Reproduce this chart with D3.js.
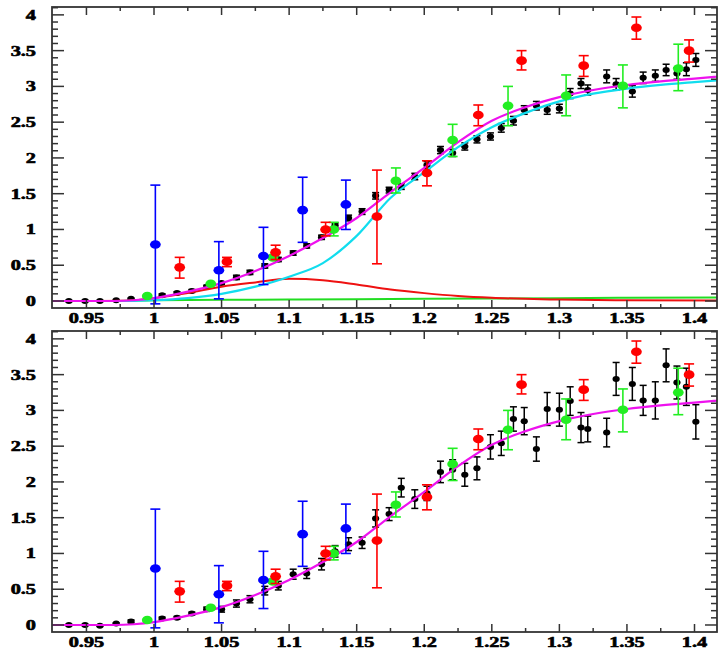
<!DOCTYPE html>
<html>
<head>
<meta charset="utf-8">
<script src="https://cdn.jsdelivr.net/npm/d3@7"></script>
<style>
  body { margin: 0; background: #fff; }
  text { font-family: "Liberation Serif", "DejaVu Serif", serif; font-weight: bold; font-size: 14px; fill: #000; stroke: #000; stroke-width: 0.6px; }
</style>
</head>
<body>
<div id="chart"></div>
<script>
// black points (same x in both panels)
const blackX = [0.937,0.949,0.960,0.972,0.983,1.006,1.017,1.028,1.039,1.050,1.061,1.071,1.082,1.092,1.103,1.113,1.124,1.134,1.144,1.154,
  1.164,1.174,1.183,1.193,1.202,1.212,1.221,1.230,1.239,1.249,1.257,1.266,1.274,1.283,1.291,1.300,1.308,1.316,1.321,1.335,
  1.342,1.354,1.362,1.371,1.379,1.387,1.394,1.401];
const blackTopY = [0,0,0,0.01,0.03,0.08,0.11,0.14,0.20,0.25,0.33,0.40,0.49,0.58,0.67,0.77,0.89,1.06,1.16,1.25,
  1.47,1.55,1.60,1.74,1.90,2.11,2.07,2.16,2.26,2.30,2.42,2.52,2.67,2.73,2.67,2.69,2.90,3.04,2.95,3.14,
  3.03,2.93,3.12,3.15,3.23,3.18,3.24,3.37];
const blackTopErr = [0.01,0.01,0.01,0.01,0.01,0.02,0.02,0.02,0.02,0.02,0.03,0.03,0.03,0.03,0.03,0.03,0.03,0.03,0.04,0.04,
  0.045,0.04,0.04,0.045,0.05,0.05,0.05,0.05,0.05,0.05,0.06,0.06,0.06,0.06,0.06,0.06,0.07,0.07,0.07,0.09,
  0.08,0.08,0.08,0.08,0.08,0.08,0.09,0.09];
const blackBotY = [0,0,-0.01,0.02,0.05,0.09,0.10,0.16,0.22,0.22,0.30,0.36,0.48,0.55,0.71,0.72,0.85,1.03,1.13,1.15,
  1.49,1.55,1.92,1.76,1.84,2.14,2.17,2.10,2.19,2.49,2.54,2.88,2.85,2.46,3.02,3.01,3.13,2.76,2.74,2.69,
  3.44,3.37,3.14,3.14,3.63,3.39,3.33,2.84];
const blackBotErr = [0.01,0.01,0.01,0.01,0.02,0.02,0.02,0.02,0.03,0.04,0.05,0.05,0.06,0.06,0.07,0.07,0.08,0.08,0.09,0.08,
  0.12,0.09,0.13,0.13,0.10,0.15,0.14,0.16,0.16,0.17,0.17,0.17,0.19,0.17,0.23,0.23,0.20,0.21,0.18,0.20,
  0.23,0.23,0.21,0.26,0.23,0.23,0.26,0.24];

// coloured points (same in both panels)
const blueX = [1.001,1.048,1.081,1.110,1.142];
const blueY = [0.79,0.43,0.63,1.27,1.35];
const blueHi = [1.62,0.83,1.03,1.73,1.69];
const blueLo = [-0.04,0.03,0.23,0.82,1.00];

const redX = [1.019,1.054,1.090,1.127,1.165,1.202,1.240,1.272,1.318,1.357,1.396];
const redY = [0.47,0.55,0.68,1.00,1.18,1.79,2.60,3.36,3.29,3.82,3.50];
const redHi = [0.61,0.61,0.78,1.10,1.83,1.96,2.74,3.50,3.43,3.97,3.65];
const redLo = [0.32,0.48,0.58,0.91,0.52,1.61,2.45,3.23,3.14,3.66,3.34];

const greenX = [0.995,1.042,1.088,1.133,1.179,1.221,1.262,1.305,1.347,1.388];
const greenY = [0.07,0.24,0.61,1.00,1.68,2.25,2.73,2.87,3.01,3.25];
const greenHi = [0.07,0.24,0.63,1.10,1.86,2.47,3.00,3.16,3.30,3.59];
const greenLo = [0.07,0.24,0.59,0.91,1.51,2.02,2.45,2.59,2.70,2.94];

// fitted curves
const totalX = [0.92,0.95,0.97,0.985,1.0,1.02,1.05,1.075,1.1,1.125,1.15,1.175,1.2,1.225,1.25,1.275,1.3,1.325,1.35,1.375,1.4,1.42];
const totalY = [0,0,0,0.01,0.04,0.11,0.25,0.42,0.63,0.88,1.16,1.52,1.86,2.22,2.52,2.71,2.85,2.95,3.02,3.07,3.11,3.14];
const cyanX = [0.92,0.95,0.98,1.0,1.025,1.05,1.075,1.1,1.125,1.15,1.175,1.2,1.225,1.25,1.275,1.3,1.325,1.35,1.375,1.4,1.42];
const cyanY = [0,0,0,0.01,0.04,0.10,0.20,0.34,0.53,0.91,1.44,1.80,2.15,2.43,2.63,2.79,2.90,2.97,3.02,3.06,3.09];
const redCurveX = [0.92,0.95,0.98,1.0,1.025,1.05,1.075,1.1,1.125,1.15,1.175,1.2,1.225,1.25,1.275,1.3,1.35,1.42];
const redCurveY = [0,0,0.005,0.04,0.11,0.20,0.26,0.31,0.29,0.23,0.16,0.11,0.07,0.045,0.03,0.02,0.01,0.005];
const greenCurveX = [0.92,0.97,1.0,1.05,1.1,1.15,1.2,1.25,1.3,1.35,1.42];
const greenCurveY = [0,0,0.012,0.016,0.02,0.025,0.03,0.035,0.04,0.045,0.05];

const xTicks = [0.95,1,1.05,1.1,1.15,1.2,1.25,1.3,1.35,1.4];
const yTicks = [0,0.5,1,1.5,2,2.5,3,3.5,4];

const W = 718, H = 651;
const left = 52, right = 717;
const frameCol = "#333";
const stretch = 1.45; // the labels are drawn wide, like the rest of the picture

const svg = d3.select("#chart").append("svg")
  .attr("width", W).attr("height", H);

const x = d3.scaleLinear().domain([0.92451, 1.41665]).range([left, right]);

function zip(xs, ys) { return xs.map((v, i) => [v, ys[i]]); }

function panel(top, bottom, id, blackY, blackErr, showComponents) {
  const y = d3.scaleLinear().domain([-0.098, 4.11]).range([bottom, top]);
  const g = svg.append("g");

  g.append("clipPath").attr("id", id)
    .append("rect").attr("x", left).attr("y", top).attr("width", right - left).attr("height", bottom - top);
  const plot = g.append("g").attr("clip-path", `url(#${id})`);

  // black points with error bars
  const blk = plot.append("g");
  blackX.forEach((xv, i) => {
    const cx = x(xv), e = blackErr[i];
    blk.append("line").attr("x1", cx).attr("x2", cx)
      .attr("y1", y(blackY[i] - e)).attr("y2", y(blackY[i] + e))
      .attr("stroke", "#000").attr("stroke-width", 1.5);
    [blackY[i] - e, blackY[i] + e].forEach(v => {
      blk.append("line").attr("x1", cx - 3.5).attr("x2", cx + 3.5)
        .attr("y1", y(v)).attr("y2", y(v))
        .attr("stroke", "#000").attr("stroke-width", 1.5);
    });
    blk.append("ellipse").attr("cx", cx).attr("cy", y(blackY[i]))
      .attr("rx", 3.6).attr("ry", 3).attr("fill", "#000");
  });

  const line = d3.line().x(d => x(d[0])).y(d => y(d[1])).curve(d3.curveMonotoneX);

  if (showComponents) {
    plot.append("path").datum(zip(greenCurveX, greenCurveY)).attr("d", line)
      .attr("fill", "none").attr("stroke", "#22dd22").attr("stroke-width", 2);
    plot.append("path").datum(zip(redCurveX, redCurveY)).attr("d", line)
      .attr("fill", "none").attr("stroke", "#ee1111").attr("stroke-width", 2);
    plot.append("path").datum(zip(cyanX, cyanY)).attr("d", line)
      .attr("fill", "none").attr("stroke", "#11ddee").attr("stroke-width", 2.2);
  }
  plot.append("path").datum(zip(totalX, totalY)).attr("d", line)
    .attr("fill", "none").attr("stroke", "#ee11ee").attr("stroke-width", 2.2);

  // coloured points
  function series(xs, ys, lo, hi, col) {
    const s = plot.append("g");
    xs.forEach((xv, i) => {
      const cx = x(xv);
      if (hi[i] - lo[i] > 0.001) {
        s.append("line").attr("x1", cx).attr("x2", cx)
          .attr("y1", y(lo[i])).attr("y2", y(hi[i]))
          .attr("stroke", col).attr("stroke-width", 1.6);
        [lo[i], hi[i]].forEach(v => {
          s.append("line").attr("x1", cx - 5).attr("x2", cx + 5)
            .attr("y1", y(v)).attr("y2", y(v))
            .attr("stroke", col).attr("stroke-width", 1.6);
        });
      }
      s.append("ellipse").attr("cx", cx).attr("cy", y(ys[i]))
        .attr("rx", 5.4).attr("ry", 4.3).attr("fill", col);
    });
  }
  series(greenX, greenY, greenLo, greenHi, "#22ee22");
  series(redX, redY, redLo, redHi, "#ff0000");
  series(blueX, blueY, blueLo, blueHi, "#0000ff");

  // frame
  g.append("rect").attr("x", left).attr("y", top).attr("width", right - left).attr("height", bottom - top)
    .attr("fill", "none").attr("stroke", frameCol).attr("stroke-width", 1.8);

  // x ticks: major every 0.05, minor every 0.025 (top and bottom, inward)
  const xMinor = d3.range(0, 20).map(i => 0.925 + i * 0.025).filter(v => v > 0.926 && v < 1.416);
  xMinor.forEach(v => {
    const isMajor = xTicks.some(t => Math.abs(t - v) < 1e-6);
    const len = isMajor ? 8 : 4;
    g.append("line").attr("x1", x(v)).attr("x2", x(v)).attr("y1", bottom).attr("y2", bottom - len)
      .attr("stroke", frameCol).attr("stroke-width", 1.5);
    g.append("line").attr("x1", x(v)).attr("x2", x(v)).attr("y1", top).attr("y2", top + len)
      .attr("stroke", frameCol).attr("stroke-width", 1.5);
  });

  // y ticks: major every 0.5, minor every 0.1 (left and right)
  d3.range(0, 42).map(i => i / 10).forEach(v => {
    const isMajor = yTicks.some(t => Math.abs(t - v) < 1e-6);
    const len = isMajor ? 12 : 6;
    g.append("line").attr("x1", left).attr("x2", left + len).attr("y1", y(v)).attr("y2", y(v))
      .attr("stroke", frameCol).attr("stroke-width", 1.5);
    g.append("line").attr("x1", right).attr("x2", right - len).attr("y1", y(v)).attr("y2", y(v))
      .attr("stroke", frameCol).attr("stroke-width", 1.5);
  });

  // labels
  g.selectAll(".ylab").data(yTicks).enter().append("text")
    .attr("transform", d => `translate(36,${y(d)}) scale(${stretch},1)`)
    .attr("dy", "0.35em").attr("text-anchor", "end").text(d => d);
  g.selectAll(".xlab").data(xTicks).enter().append("text")
    .attr("transform", d => `translate(${x(d)},${bottom + 15}) scale(${stretch},1)`)
    .attr("text-anchor", "middle").text(d => d);
}

panel(7, 308, "clipTop", blackTopY, blackTopErr, true);
panel(331, 632, "clipBot", blackBotY, blackBotErr, false);
</script>
</body>
</html>
